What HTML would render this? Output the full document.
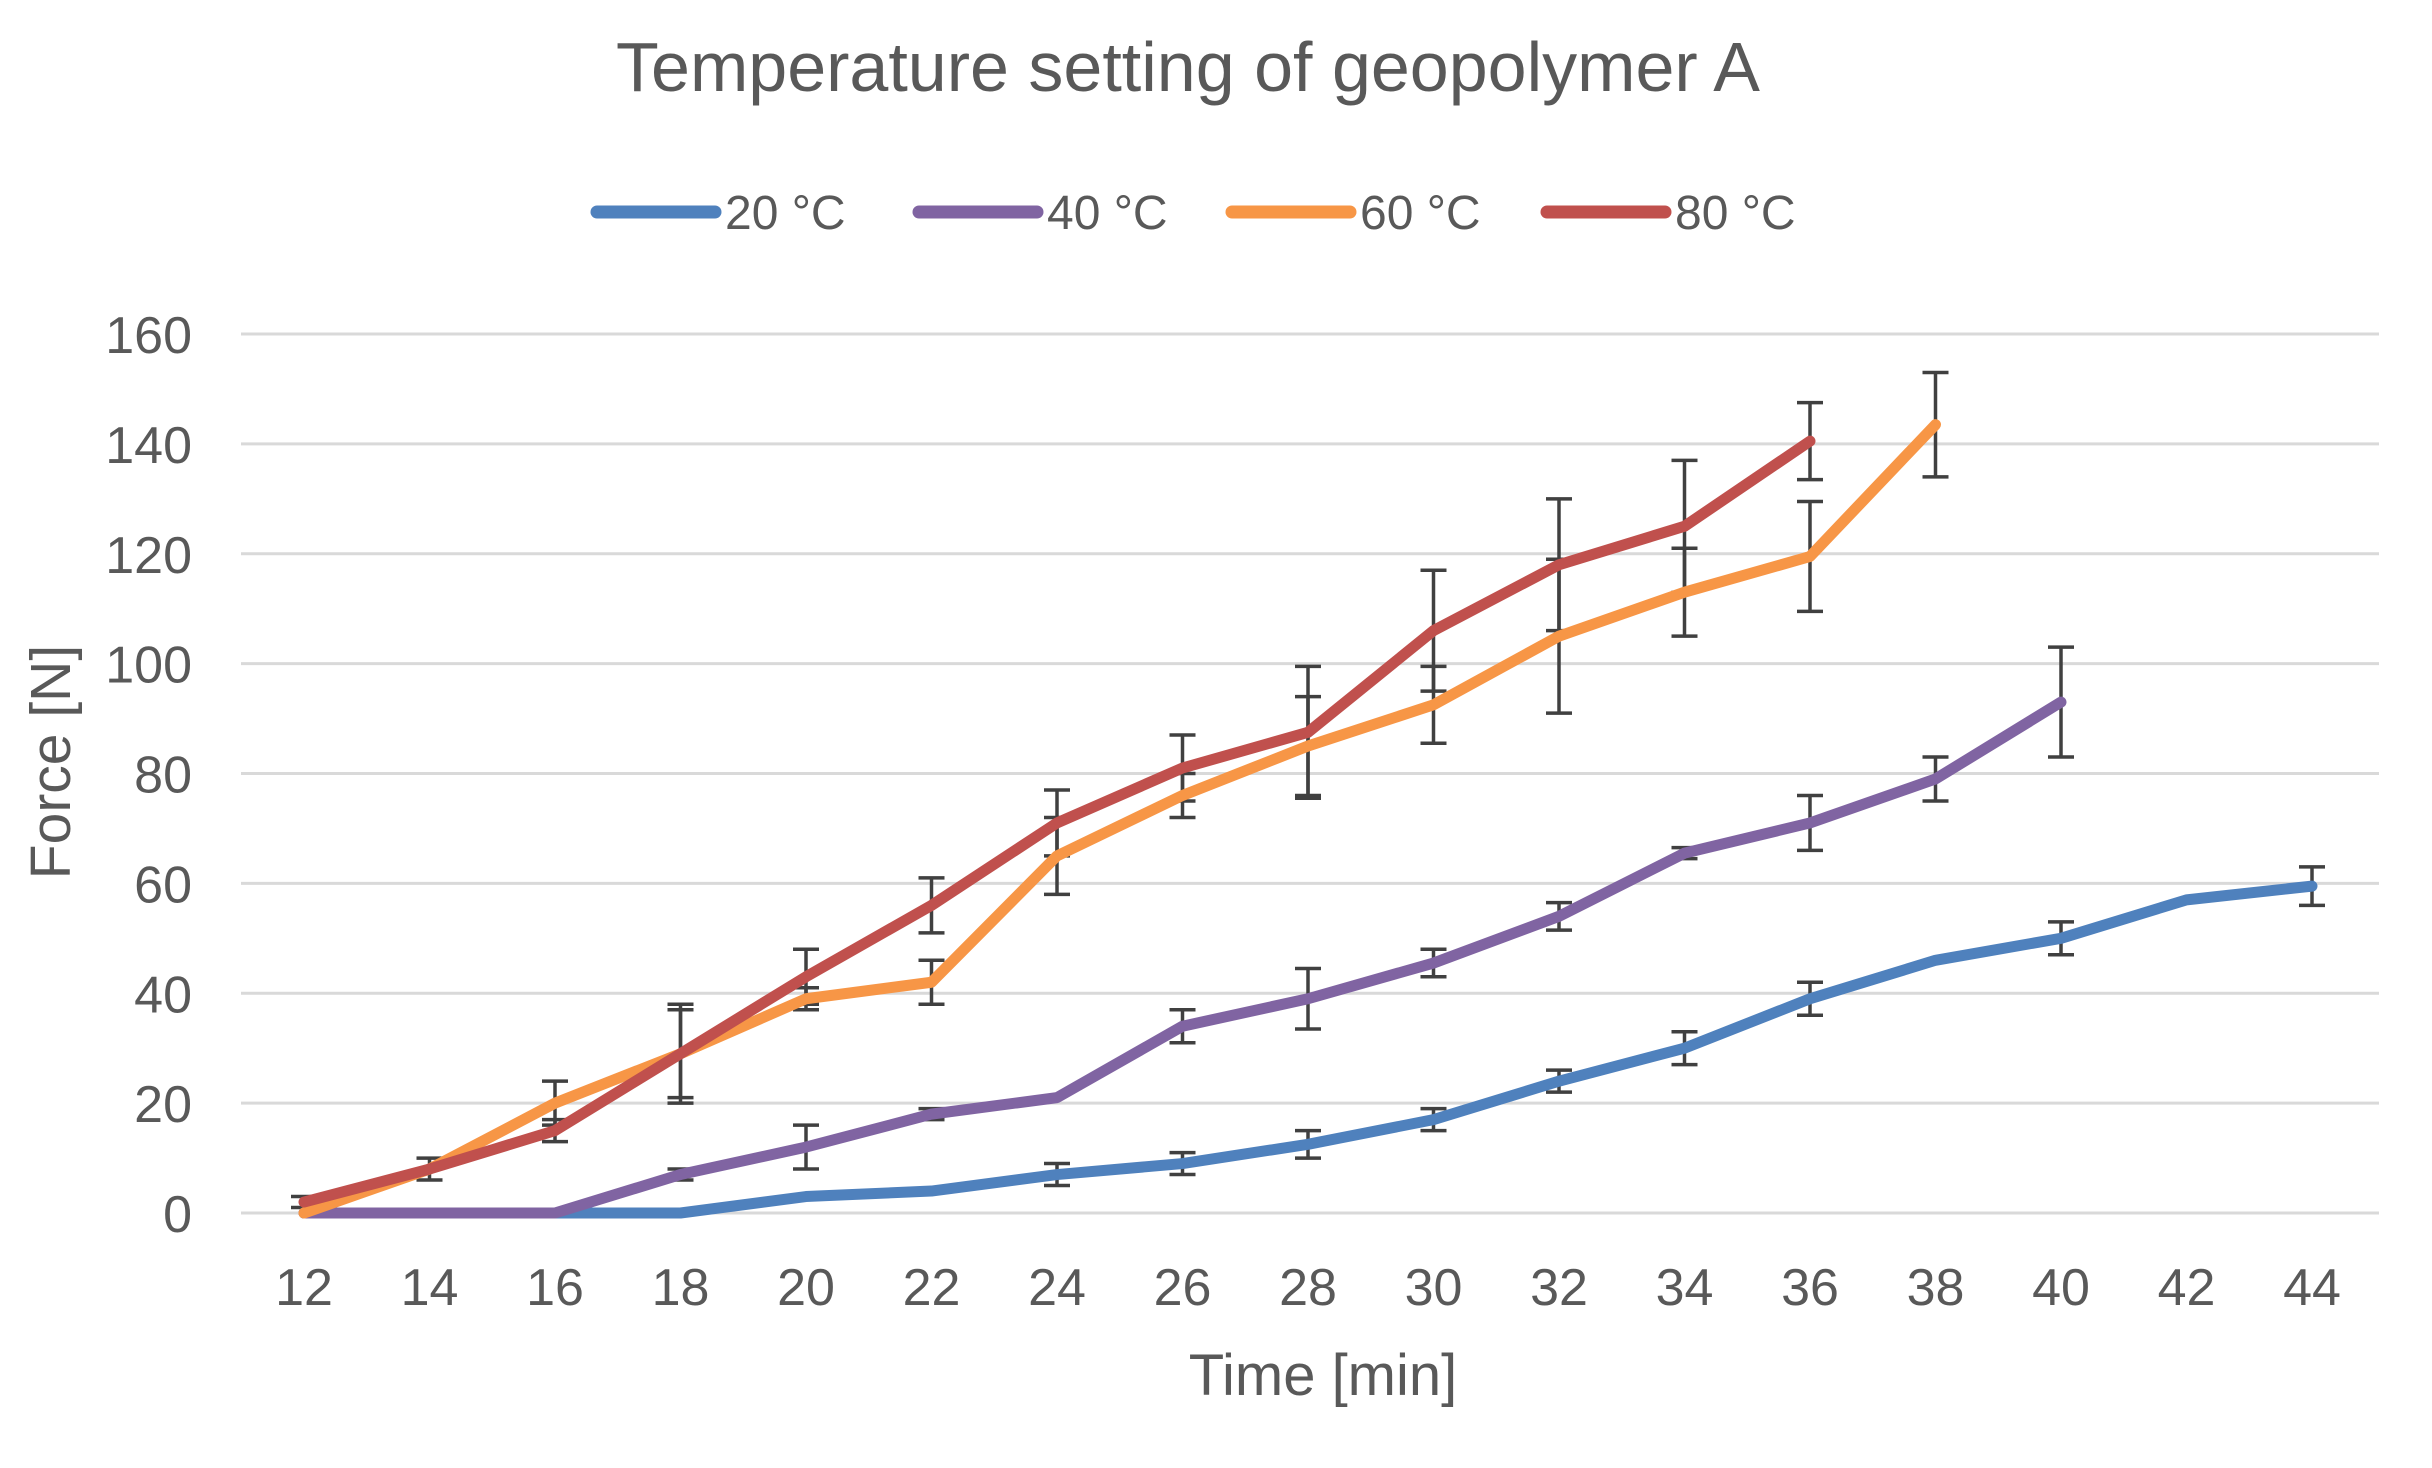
<!DOCTYPE html>
<html><head><meta charset="utf-8"><style>
html,body{margin:0;padding:0;background:#fff;}
svg{display:block;font-family:"Liberation Sans",sans-serif;}
</style></head><body>
<svg id="chart" width="2432" height="1468" viewBox="0 0 2432 1468">
<text x="1188" y="91" font-size="70" fill="#595959" text-anchor="middle">Temperature setting of geopolymer A</text>
<g id="legend"></g>
<g id="grid"></g>
<g id="yticks"></g>
<g id="xticks"></g>
<g id="series"></g>
<text x="1323" y="1395" font-size="58" fill="#595959" text-anchor="middle">Time [min]</text>
<text transform="translate(70,762) rotate(-90)" font-size="57" fill="#595959" text-anchor="middle">Force [N]</text>
</svg>
<script>
const categories=[12,14,16,18,20,22,24,26,28,30,32,34,36,38,40,42,44];
const yTicks=[0,20,40,60,80,100,120,140,160];
const seriesNames=["20 °C","40 °C","60 °C","80 °C"];
const seriesColors=["#4f81bd","#8064a2","#f79646","#c0504d"];
const s20=[0,0,0,0,3,4,7,9,12.5,17,24,30,39,46,50,57,59.5];
const e20=[0,0,0,0,0,0,2,2,2.5,2,2,3,3,0,3,0,3.5];
const s40=[0,0,0,7,12,18,21,34,39,45.5,54,65.5,71,79,93];
const e40=[0,0,0,1,4,1,0,3,5.5,2.5,2.5,1,5,4,10];
const s60=[0,8,20,29,39,42,65,76,85,92.5,105,113,119.5,143.5];
const e60=[0,2,4,9,2,4,7,4,9,7,14,8,10,9.5];
const s80=[2,8,15,29,43,56,71,81,87.5,106,118,125,140.5];
const e80=[1,0,2,8,5,5,6,6,12,11,12,12,7];
const seriesData=[s20,s40,s60,s80];
const seriesErr=[e20,e40,e60,e80];

const NS="http://www.w3.org/2000/svg";
const x0=304,dx=125.5,y0=1213,yTop=334;
function xs(c){return x0+(c-12)/2*dx;}
function ys(v){return y0-(v/160)*(y0-yTop);}
function mk(tag,attrs,parent){const e=document.createElementNS(NS,tag);for(const k in attrs)e.setAttribute(k,attrs[k]);parent.appendChild(e);return e;}
const grid=document.getElementById('grid'),yt=document.getElementById('yticks'),xt=document.getElementById('xticks'),ser=document.getElementById('series'),leg=document.getElementById('legend');
yTicks.forEach(v=>{
  const l=mk('line',{x1:241,x2:2379,y1:ys(v),y2:ys(v),stroke:'#d9d9d9','stroke-width':3},grid);
  
  
  const t=mk('text',{x:192,y:ys(v)+19,'font-size':52,fill:'#595959','text-anchor':'end'},yt);
  t.textContent=v;
  
  
});
categories.forEach(c=>{
  const t=mk('text',{x:xs(c),y:1305,'font-size':52,fill:'#595959','text-anchor':'middle'},xt);
  t.textContent=c;
  
  
});
const errG=mk('g',{},ser);


seriesData.forEach((d,i)=>{
  const pts=d.map((v,j)=>xs(categories[j])+','+ys(v)).join(' ');
  const pl=mk('polyline',{points:pts,fill:'none',stroke:seriesColors[i],'stroke-width':11,'stroke-linejoin':'round','stroke-linecap':'round'},ser);
  
  
});
seriesData.forEach((d,i)=>{
  d.forEach((v,j)=>{
    const e=seriesErr[i][j]; if(!e) return;
    const x=xs(categories[j]);
    const g=mk('g',{stroke:'#404040','stroke-width':3.5},errG);
    
    
    mk('line',{x1:x,x2:x,y1:ys(v-e),y2:ys(v+e)},g);
    mk('line',{x1:x-13,x2:x+13,y1:ys(v-e),y2:ys(v-e)},g);
    mk('line',{x1:x-13,x2:x+13,y1:ys(v+e),y2:ys(v+e)},g);
  });
});
const legX=[591,913,1226,1541];
seriesNames.forEach((n,i)=>{
  const g=mk('g',{},leg);
  
  
  mk('line',{x1:legX[i]+6,x2:legX[i]+124,y1:212,y2:212,stroke:seriesColors[i],'stroke-width':13,'stroke-linecap':'round'},g);
  const t=mk('text',{x:legX[i]+134,y:229,'font-size':48,fill:'#595959'},g);
  t.textContent=n;
});
</script>
</body></html>
